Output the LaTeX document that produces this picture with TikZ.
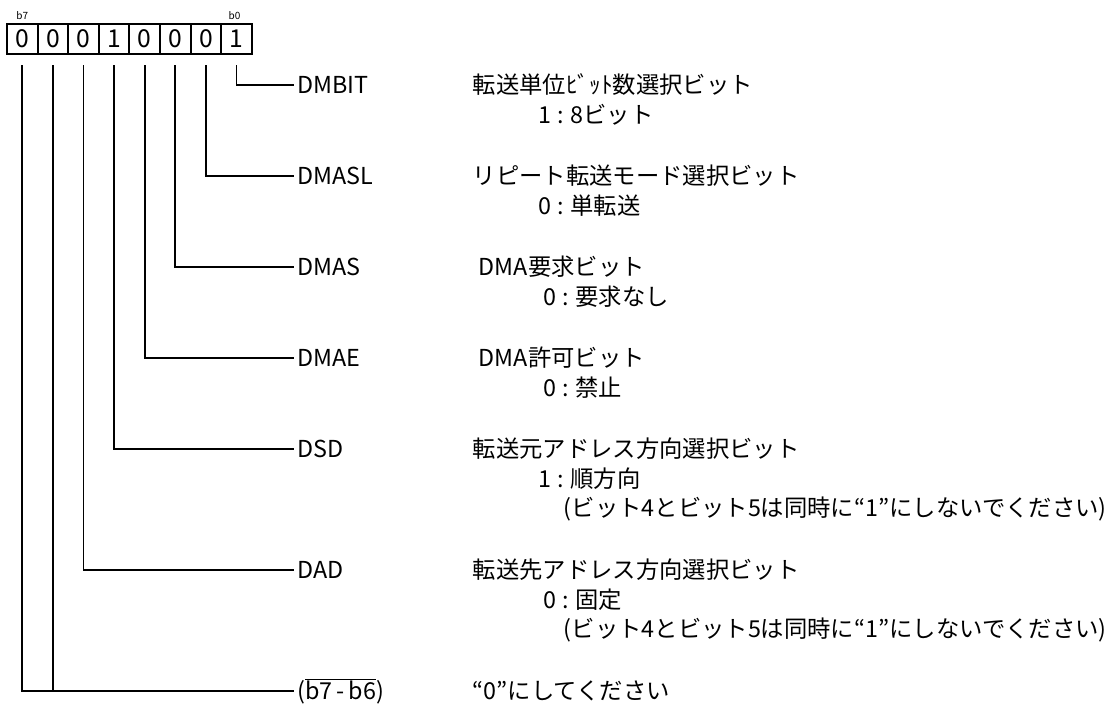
\documentclass[tikz,border=0pt]{standalone}
\usepackage{fontspec}
\setmainfont{Noto Sans CJK JP}
\usetikzlibrary{calc}

\begin{document}
\begin{tikzpicture}[x=0.75pt, y=-0.75pt, line width=1.3pt, cell/.style={draw, line width=1.5pt, minimum width=22.95pt, minimum height=22.5pt, inner sep=0pt, font=\fontsize{18.5}{18.5}\selectfont}, tag/.style={inner sep=0pt, font=\fontsize{7.5}{8}\selectfont}, bitname/.style={anchor=west, inner xsep=2pt, inner ysep=0pt, font=\fontsize{17.5}{20}\selectfont}, text node/.style={anchor=west, inner sep=0pt, font=\fontsize{17.5}{20}\selectfont}]
\useasboundingbox (0,0) rectangle (1117,704);
% register bits b7 ... b0
\foreach \v [count=\i from 0] in {0,0,0,1,0,0,0,1}
  \node[cell] (c\i) at ({22.3+30.6*\i},39) {\v};
\node[tag, anchor=south] (t7) at ($(c0.north)+(0,-2.5)$) {b7};
\node[tag, anchor=south] (t0) at ($(c7.north)+(-2,-2.5)$) {b0};
% bit names
\node[bitname] (n0) at (294,85) {DMBIT};
\node[bitname] (n1) at (294,176) {DMASL};
\node[bitname] (n2) at (294,267) {DMAS};
\node[bitname] (n3) at (294,358) {DMAE};
\node[bitname] (n4) at (294,449) {DSD};
\node[bitname] (n5) at (294,570) {DAD};
\node[bitname] (n6) at (294,691) {($\overline{\hbox{b7\,-\,b6}}$)};
% descriptions
\node[text node] (d0) at (472,85) {転送単位ﾋﾞｯﾄ数選択ビット};
\node[text node] (e0) at (538,115) {1 : 8ビット};
\node[text node] (d1) at (472,176) {リピート転送モード選択ビット};
\node[text node] (e1) at (538,206) {0 : 単転送};
\node[text node] (d2) at (478,267) {DMA要求ビット};
\node[text node] (e2) at (543,297) {0 : 要求なし};
\node[text node] (d3) at (478,358) {DMA許可ビット};
\node[text node] (e3) at (543,388) {0 : 禁止};
\node[text node] (d4) at (472,449) {転送元アドレス方向選択ビット};
\node[text node] (e4) at (538,479) {1 : 順方向};
\node[text node] (f4) at (563,509) {(ビット4とビット5は同時に“1”にしないでください)};
\node[text node] (d5) at (472,570) {転送先アドレス方向選択ビット};
\node[text node] (e5) at (543,600) {0 : 固定};
\node[text node] (f5) at (563,630) {(ビット4とビット5は同時に“1”にしないでください)};
\node[text node] (d6) at (472,691) {“0”にしてください};
% leader lines
\foreach \i/\n in {7/0,6/1,5/2,4/3,3/4,2/5,0/6}
  \draw[shorten <=7.5pt] (c\i.south) |- (n\n.west);
\draw[shorten <=7.5pt] (c1.south) -- (c1.south |- n6.west);
\end{tikzpicture}
\end{document}
